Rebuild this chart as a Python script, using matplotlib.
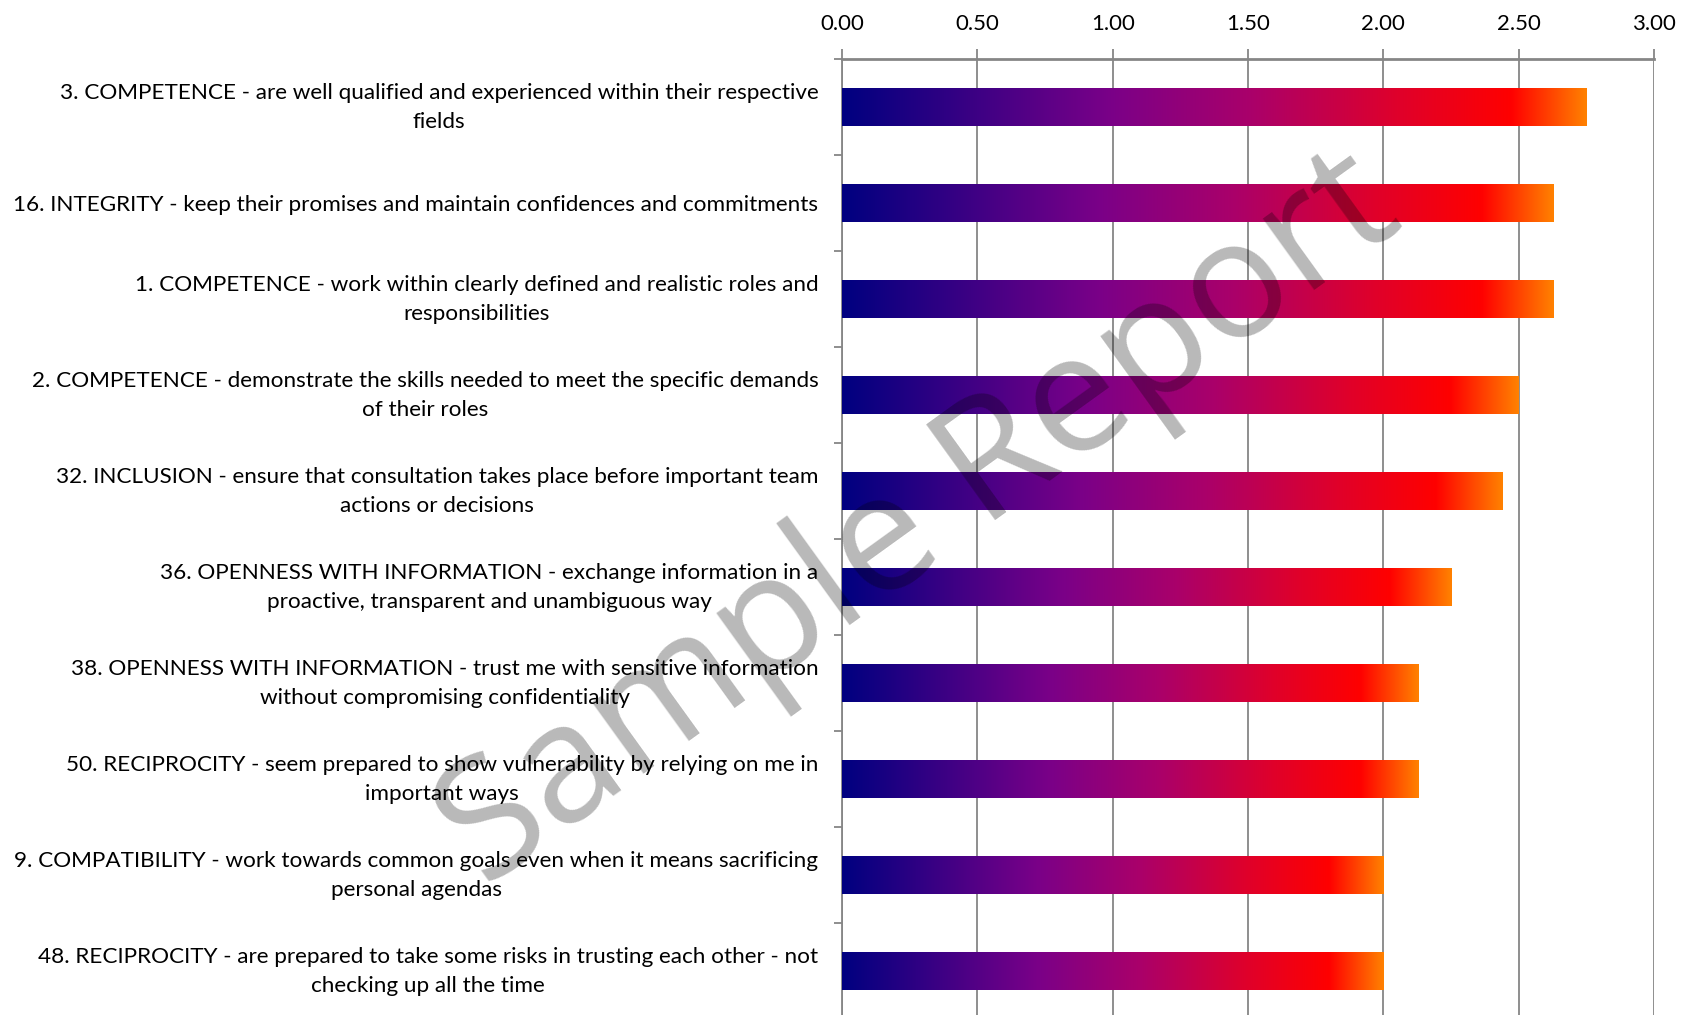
import numpy as np
import matplotlib.pyplot as plt
import matplotlib.transforms as mtransforms
from matplotlib.colors import LinearSegmentedColormap

# Trust survey items, highest scoring first
labels = [
    "3. COMPETENCE - are well qualified and experienced within their respective\nfields",
    "16. INTEGRITY - keep their promises and maintain confidences and commitments",
    "1. COMPETENCE - work within clearly defined and realistic roles and\nresponsibilities",
    "2. COMPETENCE - demonstrate the skills needed to meet the specific demands\nof their roles",
    "32. INCLUSION - ensure that consultation takes place before important team\nactions or decisions",
    "36. OPENNESS WITH INFORMATION - exchange information in a\nproactive, transparent and unambiguous way",
    "38. OPENNESS WITH INFORMATION - trust me with sensitive information\nwithout compromising confidentiality",
    "50. RECIPROCITY - seem prepared to show vulnerability by relying on me in\nimportant ways",
    "9. COMPATIBILITY - work towards common goals even when it means sacrificing\npersonal agendas",
    "48. RECIPROCITY - are prepared to take some risks in trusting each other - not\nchecking up all the time",
]
scores = [2.75, 2.63, 2.63, 2.50, 2.44, 2.25, 2.13, 2.13, 2.00, 2.00]
ticks = [0.0, 0.5, 1.0, 1.5, 2.0, 2.5, 3.0]

# navy -> purple -> magenta -> red -> orange, stretched over each bar
grad = LinearSegmentedColormap.from_list("bars", [
    (0.00, (0 / 255, 0 / 255, 128 / 255)),
    (0.36, (122 / 255, 0 / 255, 136 / 255)),
    (0.55, (170 / 255, 0 / 255, 106 / 255)),
    (0.75, (224 / 255, 0 / 255, 42 / 255)),
    (0.90, (255 / 255, 0 / 255, 0 / 255)),
    (1.00, (255 / 255, 128 / 255, 0 / 255)),
])

plt.rcParams['font.family'] = ['Lato', 'DejaVu Sans']

W, H = 1687, 1015
fig = plt.figure(figsize=(W / 100, H / 100), dpi=100)
ax = fig.add_axes([842 / W, -4 / H, (1654 - 842) / W, (1019 - 59) / H])

y = np.arange(len(labels))
bars = ax.barh(y, scores, height=0.4, color='none', zorder=3)

# fill every bar with the horizontal gradient
strip = np.linspace(0, 1, 256).reshape(1, -1)
for b in bars:
    x0, y0 = b.get_x(), b.get_y()
    im = ax.imshow(strip, cmap=grad, aspect='auto', interpolation='bilinear',
                   extent=(x0, x0 + b.get_width(), y0 + b.get_height(), y0),
                   zorder=3)
    im.set_clip_path(b)

ax.set_xlim(0, 3)
ax.set_ylim(len(labels) - 0.5, -0.5)

ax.xaxis.tick_top()
ax.set_xticks(ticks)
ax.set_xticklabels([f"{t:.2f}" for t in ticks])
ax.tick_params(axis='x', length=7, width=1.3, color='#868686', pad=11,
               labelsize=16, labelcolor='black')
ax.grid(axis='x', color='#868686', lw=1.3, zorder=1)

ax.set_yticks(y)
ax.set_yticklabels(labels, fontsize=16.2, ha='right', multialignment='center',
                   linespacing=1.55)
ax.set_yticks(np.arange(len(labels) + 1) - 0.5, minor=True)
ax.tick_params(axis='y', which='major', length=0, pad=17)
ax.tick_params(axis='y', which='minor', length=6, width=1.3, color='#868686')

# wrapped labels sit a little low, nudge them up
nudge = mtransforms.ScaledTranslation(0, 4 / 72, fig.dpi_scale_trans)
for lab in ax.get_yticklabels():
    if "\n" in lab.get_text():
        lab.set_transform(lab.get_transform() + nudge)

for side in ['right', 'bottom']:
    ax.spines[side].set_visible(False)
ax.spines['top'].set_color('#868686')
ax.spines['top'].set_linewidth(2)
ax.spines['left'].set_color('#868686')
ax.spines['left'].set_linewidth(1.3)

# watermark
fig.text(920 / W, 1 - 522 / H, "Sample Report", family='Open Sans',
         fontsize=119, color='black', alpha=0.28, rotation=35.8,
         rotation_mode='anchor', ha='center', va='center', zorder=10)

fig.savefig('out.png', dpi=100)
